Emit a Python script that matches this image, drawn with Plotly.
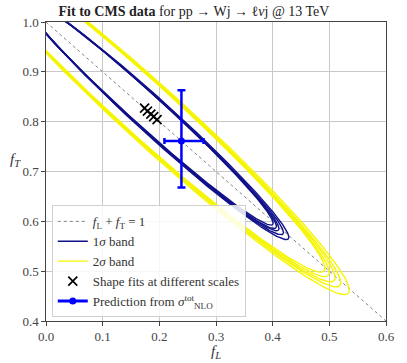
import numpy as np
import plotly.graph_objects as go

# shape fits at different scales (also used as contour centres)
fit_fL = [0.174, 0.179, 0.185, 0.190, 0.196]
fit_fT = [0.827, 0.821, 0.815, 0.810, 0.804]

# contour ellipses: semi-major / semi-minor axes, tilt angle (deg)
sig1_a = [0.325, 0.326, 0.324, 0.328, 0.333]
sig1_b = [0.030, 0.031, 0.031, 0.032, 0.033]
sig2_a = [0.455, 0.459, 0.465, 0.472, 0.485]
sig2_b = [0.050, 0.051, 0.052, 0.053, 0.055]
tilt_deg = -46.0

# NLO prediction with asymmetric errors
pred_fL, pred_fL_lo, pred_fL_hi = 0.239, 0.030, 0.039
pred_fT, pred_fT_lo, pred_fT_hi = 0.761, 0.093, 0.102

diag_fL = [0.0, 0.6]
diag_fT = [1.0, 0.4]

SERIF = "Liberation Serif, Times New Roman, serif"
BLUE1 = "#10108a"
YELLOW = "#f5f500"


def ellipse(cx, cy, a, b, ang):
    t = np.linspace(0, 2 * np.pi, 400)
    th = np.deg2rad(ang)
    x = a * np.cos(t)
    y = b * np.sin(t)
    return cx + x * np.cos(th) - y * np.sin(th), cy + x * np.sin(th) + y * np.cos(th)


fig = go.Figure()

fig.add_trace(go.Scatter(
    x=diag_fL, y=diag_fT, mode="lines",
    line=dict(color="#808080", width=1, dash="dot"),
    name="<i>f</i><sub>L</sub> + <i>f</i><sub>T</sub> = 1",
))

for i in range(len(fit_fL)):
    ex, ey = ellipse(fit_fL[i], fit_fT[i], sig1_a[i], sig1_b[i], tilt_deg)
    fig.add_trace(go.Scatter(
        x=ex, y=ey, mode="lines", line=dict(color=BLUE1, width=1.4),
        name="1<i>σ</i> band", legendgroup="s1", showlegend=(i == 0),
    ))
for i in range(len(fit_fL)):
    ex, ey = ellipse(fit_fL[i], fit_fT[i], sig2_a[i], sig2_b[i], tilt_deg)
    fig.add_trace(go.Scatter(
        x=ex, y=ey, mode="lines", line=dict(color=YELLOW, width=1.4),
        name="2<i>σ</i> band", legendgroup="s2", showlegend=(i == 0),
    ))

fig.add_trace(go.Scatter(
    x=fit_fL, y=fit_fT, mode="markers",
    marker=dict(symbol="x-thin", size=9, line=dict(color="black", width=1.7)),
    name="Shape fits at different scales",
))

fig.add_trace(go.Scatter(
    x=[pred_fL], y=[pred_fT], mode="markers",
    marker=dict(color="#0000ff", size=7),
    error_x=dict(type="data", symmetric=False, array=[pred_fL_hi], arrayminus=[pred_fL_lo],
                 color="#0000ff", thickness=2.5, width=3),
    error_y=dict(type="data", symmetric=False, array=[pred_fT_hi], arrayminus=[pred_fT_lo],
                 color="#0000ff", thickness=2.5, width=4),
    showlegend=False,
))
# legend entry for the prediction
fig.add_trace(go.Scatter(
    x=[None], y=[None], mode="lines+markers",
    marker=dict(color="#0000ff", size=7, symbol="circle"),
    line=dict(color="#0000ff", width=3),
    name="Prediction from <i>σ</i><sup>tot</sup><sub>NLO</sub>",
))

axis_common = dict(
    showgrid=True, gridcolor="#c8c8c8", gridwidth=1,
    showline=True, linecolor="#444", linewidth=1.2, mirror=True,
    ticks="outside", ticklen=3.5, tickcolor="#444",
    tickfont=dict(family=SERIF, size=13, color="#444"),
    zeroline=False,
)

fig.update_layout(
    width=407, height=363,
    margin=dict(l=46, r=13, t=21.5, b=41.5),
    plot_bgcolor="white", paper_bgcolor="white",
    xaxis=dict(range=[0, 0.6], dtick=0.1, tickformat=".1f", **axis_common),
    yaxis=dict(range=[0.4, 1.0], dtick=0.1, tickformat=".1f", **axis_common),
    title=dict(
        text="<b>Fit to CMS data</b> for pp → Wj → ℓ<i>ν</i>j @ 13 TeV",
        x=194 / 407, xanchor="center", y=1 - 11 / 363, yanchor="middle",
        xref="container", yref="container",
        font=dict(family=SERIF, size=14, color="#222"),
    ),
    legend=dict(
        x=0.017, y=0.012, xanchor="left", yanchor="bottom",
        bgcolor="rgba(255,255,255,0.85)", bordercolor="#d0d0d0", borderwidth=1,
        font=dict(family=SERIF, size=13, color="#333"),
        tracegroupgap=0, itemwidth=30,
    ),
    showlegend=True,
    annotations=[
        dict(text="<i>f<sub>L</sub></i>", xref="paper", yref="paper", x=0.5, y=-0.105,
             xanchor="center", yanchor="middle", showarrow=False,
             font=dict(family=SERIF, size=15, color="#333")),
        dict(text="<i>f<sub>T</sub></i>", xref="paper", yref="paper", x=-31 / 348, y=0.538,
             xanchor="center", yanchor="middle", showarrow=False,
             font=dict(family=SERIF, size=15, color="#333")),
    ],
)

# drop the default page margin so the figure sits at the window origin
fig.write_html(
    "out.html",
    config={"displayModeBar": False},
    post_script="document.body.style.margin='0';document.body.style.overflow='hidden';",
)
